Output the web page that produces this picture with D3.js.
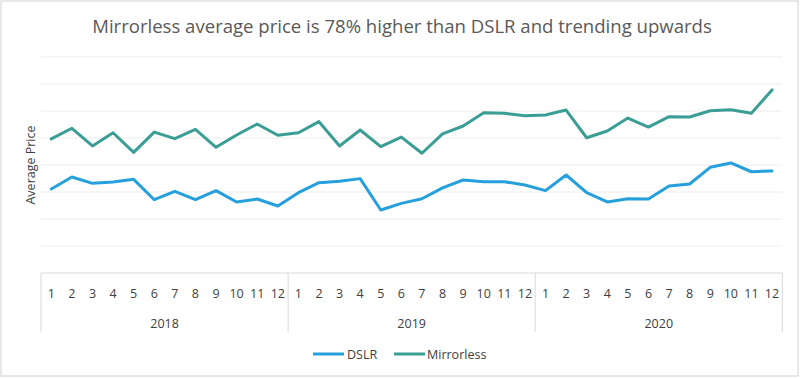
<!DOCTYPE html>
<html>
<head>
<meta charset="utf-8">
<script src="https://cdn.jsdelivr.net/npm/d3@7"></script>
<style>
  html, body { margin: 0; padding: 0; background: #fff; }
  svg { display: block; }
</style>
</head>
<body>
<svg id="chart" width="800" height="378"></svg>
<script>
const title = "Mirrorless average price is 78% higher than DSLR and trending upwards";
const yLabel = "Average Price";
const years = ["2018", "2019", "2020"];
const months = ["1","2","3","4","5","6","7","8","9","10","11","12"];
const seriesNames = ["DSLR", "Mirrorless"];
const dslr = [622, 711, 664, 674, 694, 543, 605, 543, 610, 526, 548, 496,
              595, 669, 679, 699, 467, 516, 550, 630, 689, 676, 676, 652,
              610, 726, 595, 526, 550, 548, 644, 659, 783, 815, 750, 756];
const mirrorless = [993, 1072, 941, 1039, 894, 1044, 995, 1064, 931, 1022, 1104, 1020,
                    1039, 1121, 941, 1059, 936, 1007, 887, 1030, 1089, 1187, 1183, 1165,
                    1170, 1207, 1002, 1052, 1148, 1081, 1158, 1156, 1202, 1210, 1183, 1356];
const yTicks = [200, 400, 600, 800, 1000, 1200, 1400, 1600];
const colors = ["#25a0dc", "#3b9e95"];

const svg = d3.select("#chart");
const W = 800, H = 378;
const plotLeft = 41, plotRight = 782.3, plotTop = 57, plotBottom = 273;

// outer border
svg.append("rect").attr("x", 1).attr("y", 1).attr("width", W - 3).attr("height", H - 3)
  .attr("fill", "#fff").attr("stroke", "#d9d9d9").attr("stroke-width", 1.2);

const cats = [];
years.forEach(yr => months.forEach(m => cats.push(yr + "-" + m)));

const x = d3.scaleBand().domain(cats).range([plotLeft, plotRight]);
const y = d3.scaleLinear().domain([0, 1600]).range([plotBottom, plotTop]);

// gridlines
svg.append("g").selectAll("line").data(yTicks).join("line")
  .attr("x1", plotLeft).attr("x2", plotRight)
  .attr("y1", d => y(d)).attr("y2", d => y(d))
  .attr("stroke", "#ececec").attr("stroke-width", 1);

// title
const t = svg.append("text").attr("x", 402).attr("y", 33)
  .attr("text-anchor", "middle").attr("fill", "#595959")
  .style("font-family", "Open Sans, sans-serif").style("font-size", "18px")
  .text(title);
const tw = t.node().getComputedTextLength();
t.style("font-size", (18 * 620 / tw) + "px");

// y label
svg.append("text").attr("transform", "translate(35,165) rotate(-90)")
  .attr("text-anchor", "middle").attr("fill", "#404040")
  .style("font-family", "Open Sans, sans-serif").style("font-size", "12.5px")
  .text(yLabel);

// x axis box
const axisColor = "#d9d9d9";
svg.append("line").attr("x1", plotLeft).attr("x2", plotRight).attr("y1", plotBottom).attr("y2", plotBottom)
  .attr("stroke", axisColor).attr("stroke-width", 1);
const dividers = [plotLeft].concat(years.map(yr => x(yr + "-12") + x.bandwidth()));
svg.append("g").selectAll("line").data(dividers).join("line")
  .attr("x1", d => d).attr("x2", d => d).attr("y1", plotBottom).attr("y2", 332)
  .attr("stroke", axisColor).attr("stroke-width", 1);

// month labels
svg.append("g").selectAll("text").data(cats).join("text")
  .attr("x", d => x(d) + x.bandwidth() / 2).attr("y", 297.5)
  .attr("text-anchor", "middle").attr("fill", "#404040")
  .style("font-family", "Open Sans, sans-serif").style("font-size", "12.5px")
  .text(d => d.split("-")[1]);

// year labels
svg.append("g").selectAll("text").data(years).join("text")
  .attr("x", yr => (x(yr + "-1") + x(yr + "-12") + x.bandwidth()) / 2).attr("y", 327.5)
  .attr("text-anchor", "middle").attr("fill", "#404040")
  .style("font-family", "Open Sans, sans-serif").style("font-size", "12.5px")
  .text(yr => yr);

// lines
const line = d3.line().x((d, i) => x(cats[i]) + x.bandwidth() / 2).y(d => y(d));
[dslr, mirrorless].forEach((s, k) => {
  svg.append("path").datum(s).attr("d", line)
    .attr("fill", "none").attr("stroke", colors[k]).attr("stroke-width", 3)
    .attr("stroke-linejoin", "round").attr("stroke-linecap", "round");
});

// legend
const legendItems = [{x: 313, tx: 347}, {x: 394, tx: 427}];
seriesNames.forEach((n, k) => {
  svg.append("line").attr("x1", legendItems[k].x).attr("x2", legendItems[k].x + 31)
    .attr("y1", 354).attr("y2", 354).attr("stroke", colors[k]).attr("stroke-width", 3);
  svg.append("text").attr("x", legendItems[k].tx).attr("y", 358.5)
    .attr("fill", "#404040")
    .style("font-family", "Open Sans, sans-serif").style("font-size", "12.5px")
    .text(n);
});
</script>
</body>
</html>
